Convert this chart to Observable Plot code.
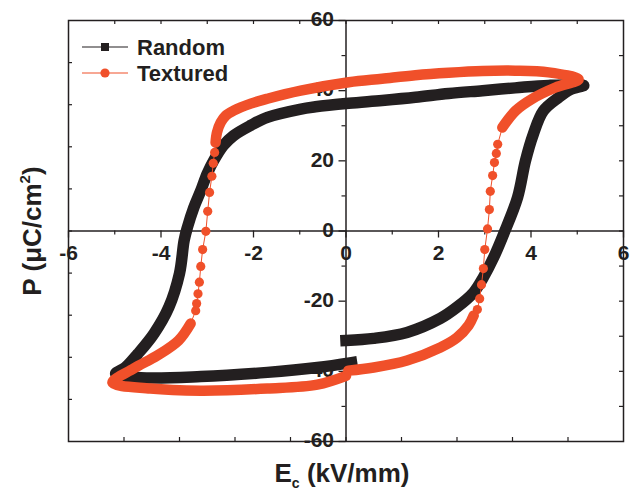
<!DOCTYPE html>
<html>
<head>
<meta charset="utf-8">
<script src="https://cdn.jsdelivr.net/npm/d3@7"></script>
<script src="https://cdn.jsdelivr.net/npm/@observablehq/plot@0.6"></script>
<style>
  body { margin: 0; background: #fff; }
  svg { display: block; }
</style>
</head>
<body>
<div id="chart"></div>
<script>
// ---- tick values ----
const xTickValues = [-6, -4, -2, 0, 2, 4, 6];
const xMinorTicks = [-5, -3, -1, 1, 3, 5];
const yTickValues = [-60, -40, -20, 0, 20, 40, 60];
const yMinorTicks = [-50, -30, -10, 10, 30, 50];
const topFrameTicks = [-5, -4, -3, -2, -1, 0, 1, 2, 3, 4, 5];
const bottomFrameTicks = [-4.8, -3.6, -2.4, -1.2, 0, 1.2, 2.4, 3.6, 4.8];
const leftFrameTicks = [-48, -36, -24, -12, 0, 12, 24, 36, 48];
const rightFrameTicks = [-50, -40, -30, -20, -10, 0, 10, 20, 30, 40, 50];

// ---- series names ----
const seriesNames = ["Random", "Textured"];

// ---- Random sample: hysteresis loop [E (kV/mm), P (uC/cm2)], in measurement order ----
const randomLoop = [
  [0.0, -31.2], [0.6, -30.6], [1.32, -28.9], [2.04, -24.9], [2.4, -21.7], [2.76, -17.5],
  [2.97, -13.2], [3.19, -7.6], [3.41, -0.8], [3.71, 9.6], [3.88, 20.0], [4.05, 27.6],
  [4.27, 34.3], [4.6, 38.1], [4.85, 40.3], [5.14, 41.5],
  [4.38, 41.5], [3.66, 40.8], [2.95, 40.0], [2.22, 39.2], [1.5, 38.1], [0.78, 37.2],
  [0.06, 36.4], [-0.66, 35.4], [-1.0, 34.7], [-1.7, 32.4], [-2.06, 30.1], [-2.43, 27.2],
  [-2.65, 24.4], [-2.86, 20.1], [-3.0, 16.4], [-3.14, 11.5], [-3.29, 6.7], [-3.43, 1.0],
  [-3.5, -2.7], [-3.6, -12.1], [-3.83, -21.7], [-4.15, -29.2], [-4.5, -35.0], [-4.77, -38.9],
  [-4.98, -40.7],
  [-4.44, -41.8], [-3.14, -41.5], [-1.7, -40.3], [-0.62, -38.9], [0.12, -37.5]
];

// ---- Textured sample: loop in measurement order, split where markers are resolvable ----
const texturedRiseBand = [
  [0.05, -39.8], [0.6, -38.9], [1.32, -36.9], [2.04, -33.2], [2.4, -30.4], [2.65, -26.9], [2.76, -24.1]
];
const texturedRiseSwitch = [
  [2.84, -22.4], [2.89, -19.3], [2.93, -15.3], [2.97, -10.7], [3.0, -5.3], [3.06, 0.6],
  [3.1, 6.1], [3.12, 11.3], [3.17, 15.8], [3.21, 19.5], [3.25, 22.1], [3.28, 24.7]
];
const texturedTopBand = [
  [3.38, 29.5], [3.67, 34.3], [4.03, 37.7], [4.53, 40.9], [5.03, 43.2],
  [4.38, 45.2], [3.66, 45.7], [2.95, 45.6], [2.22, 45.1], [1.5, 44.4], [0.78, 43.4],
  [0.06, 42.4], [-0.98, 40.0], [-1.7, 37.7], [-2.06, 36.3], [-2.43, 34.3], [-2.6, 32.9],
  [-2.71, 30.9], [-2.79, 28.1], [-2.82, 25.2]
];
const texturedFallSwitch = [
  [-2.84, 22.4], [-2.87, 19.3], [-2.9, 15.6], [-2.95, 11.0], [-2.99, 5.6], [-3.03, -0.1],
  [-3.10, -5.3], [-3.14, -10.1], [-3.17, -14.6], [-3.2, -17.9], [-3.23, -20.7], [-3.25, -22.7]
];
const texturedBottomBand = [
  [-3.36, -26.4], [-3.62, -31.2], [-4.08, -35.5], [-4.59, -39.2], [-5.05, -43.2],
  [-4.23, -44.9], [-3.14, -45.5], [-1.7, -44.9], [-0.62, -43.8], [0.0, -41.3]
];

// ---- styling ----
const black = "#231f20";
const orange = "#f0502a";
const W = 635, H = 492;
const mL = 68, mR = 12, mT = 20, mB = 51;
const pxY = 120 / (H - mT - mB);   // data units per px (y)
const pxX = 12 / (W - mL - mR);    // data units per px (x)
const font = "'Liberation Sans', Arial, Helvetica, sans-serif";

const toObj = a => a.map(([E, P]) => ({E, P}));
const texturedAll = [].concat(texturedRiseBand, texturedRiseSwitch, texturedTopBand, texturedFallSwitch, texturedBottomBand);

const plot = Plot.plot({
  width: W, height: H,
  marginLeft: mL, marginRight: mR, marginTop: mT, marginBottom: mB,
  x: {domain: [-6, 6], axis: null},
  y: {domain: [-60, 60], axis: null},
  style: {fontFamily: font, background: "#fff", overflow: "visible"},
  marks: [
    // tick labels (under the curves)
    Plot.text(xTickValues, {x: d => d, y: 0, text: d => String(d), dy: 22.5,
      fontSize: 21, fontWeight: "bold", fill: black, textAnchor: "middle"}),
    Plot.text(yTickValues, {x: 0, y: d => d, text: d => String(d), dx: -12, dy: -1,
      fontSize: 21, fontWeight: "bold", fill: black, textAnchor: "end"}),
    // frame & its ticks
    Plot.frame({stroke: black, strokeWidth: 1.5}),
    Plot.ruleX(topFrameTicks, {x: d => d, y1: 60, y2: 60 - 4 * pxY, stroke: black, strokeWidth: 1.2}),
    Plot.ruleX(bottomFrameTicks, {x: d => d, y1: -60, y2: -60 + 4 * pxY, stroke: black, strokeWidth: 1.2}),
    Plot.ruleY(leftFrameTicks, {y: d => d, x1: -6, x2: -6 + 4 * pxX, stroke: black, strokeWidth: 1.2}),
    Plot.ruleY(rightFrameTicks, {y: d => d, x1: 6, x2: 6 - 4 * pxX, stroke: black, strokeWidth: 1.2}),
    // axes through origin
    Plot.ruleY([0], {stroke: black, strokeWidth: 1.5}),
    Plot.ruleX([0], {stroke: black, strokeWidth: 1.5}),
    Plot.ruleX(xTickValues, {x: d => d, y1: 0, y2: -7 * pxY, stroke: black, strokeWidth: 1.3}),
    Plot.ruleX(xMinorTicks, {x: d => d, y1: 0, y2: -4 * pxY, stroke: black, strokeWidth: 1.2}),
    Plot.ruleY(yTickValues, {y: d => d, x1: 0, x2: -7 * pxX, stroke: black, strokeWidth: 1.3}),
    Plot.ruleY(yMinorTicks, {y: d => d, x1: 0, x2: -4 * pxX, stroke: black, strokeWidth: 1.2}),
    // Random loop: dense square markers -> thick band
    Plot.line(toObj(randomLoop), {x: "E", y: "P", stroke: black, strokeWidth: 11.5,
      strokeLinejoin: "round", strokeLinecap: "square", curve: "catmull-rom"}),
    // Textured loop
    Plot.line(toObj(texturedAll), {x: "E", y: "P", stroke: orange, strokeWidth: 1}),
    ...[texturedRiseBand, texturedTopBand, texturedBottomBand].map(seg =>
      Plot.line(toObj(seg), {x: "E", y: "P", stroke: orange, strokeWidth: 10.5,
        strokeLinejoin: "round", strokeLinecap: "round", curve: "catmull-rom"})),
    Plot.dot(toObj([].concat(texturedRiseSwitch, texturedFallSwitch)), {x: "E", y: "P",
      r: 4.6, fill: orange, stroke: "none"})
  ]
});

document.getElementById("chart").appendChild(plot);
const svg = d3.select(plot);

// legend
const lg = svg.append("g").attr("font-family", font).attr("font-weight", "bold")
  .attr("font-size", 22).attr("fill", black).attr("text-anchor", "start");
const rows = [
  {name: seriesNames[0], color: black, y: 47, shape: "square"},
  {name: seriesNames[1], color: orange, y: 73, shape: "circle"}
];
rows.forEach(r => {
  lg.append("line").attr("x1", 82).attr("x2", 128).attr("y1", r.y).attr("y2", r.y)
    .attr("stroke", r.color).attr("stroke-width", 1.2);
  if (r.shape === "square") {
    lg.append("rect").attr("x", 101).attr("y", r.y - 4).attr("width", 8).attr("height", 8).attr("fill", r.color);
  } else {
    lg.append("circle").attr("cx", 105).attr("cy", r.y).attr("r", 4.6).attr("fill", r.color);
  }
  lg.append("text").attr("x", 137).attr("y", r.y + 7.5).attr("text-anchor", "start").text(r.name);
});

// axis titles
const xt = svg.append("text").attr("x", 342).attr("y", 482).attr("text-anchor", "middle")
  .attr("font-family", font).attr("font-weight", "bold").attr("font-size", 26).attr("fill", black);
xt.append("tspan").text("E");
xt.append("tspan").attr("font-size", 14).attr("dy", 6).text("c");
xt.append("tspan").attr("dy", -6).text(" (kV/mm)");

const yt = svg.append("text").attr("transform", "translate(41,231) rotate(-90)").attr("text-anchor", "middle")
  .attr("font-family", font).attr("font-weight", "bold").attr("font-size", 26).attr("fill", black);
yt.append("tspan").text("P (\u03bcC/cm");
yt.append("tspan").attr("font-size", 15).attr("dy", -11).text("2");
yt.append("tspan").attr("dy", 11).text(")");
</script>
</body>
</html>
